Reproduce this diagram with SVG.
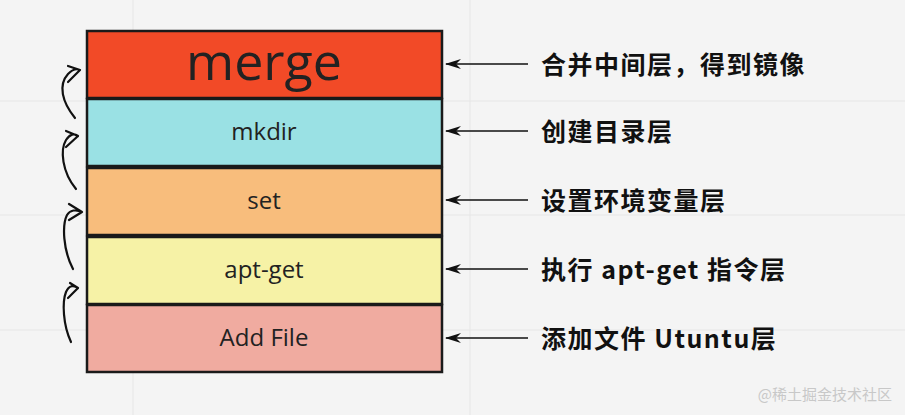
<svg xmlns="http://www.w3.org/2000/svg" width="905" height="415" viewBox="0 0 905 415">
<style>
.box{stroke:#1a1a1a;stroke-width:2.5}
.lbl{font-family:"Open Sans","Noto Sans",sans-serif;fill:#222;text-anchor:middle}
.note{font-family:"Noto Sans CJK SC","Noto Sans",sans-serif;font-weight:bold;font-size:25px;letter-spacing:1.5px;fill:#111}
.con{stroke:#111;stroke-width:1.6;fill:none}
.hand{stroke:#111;stroke-width:2.2;fill:none;stroke-linecap:round;stroke-linejoin:round}
.grid{stroke:#e6e6e6;stroke-width:1}
</style>
<defs>
<marker id="ah" markerWidth="16" markerHeight="10" refX="15" refY="5" orient="auto" markerUnits="userSpaceOnUse">
<path d="M16,5 L0,0 L5,5 L0,10 Z" fill="#111"/>
</marker>
</defs>
<rect width="905" height="415" fill="#f4f4f4"/>
<g id="grid">
<line class="grid" x1="133" y1="0" x2="133" y2="415"/>
<line class="grid" x1="470" y1="0" x2="470" y2="415"/>
<line class="grid" x1="0" y1="101" x2="905" y2="101"/>
<line class="grid" x1="0" y1="215" x2="905" y2="215"/>
<line class="grid" x1="0" y1="330" x2="905" y2="330"/>
</g>
<g id="merge"><rect class="box" x="87" y="31" width="355" height="67" fill="#f24a27"/><text class="lbl" x="264" y="80" font-size="52">merge</text></g>
<g id="mkdir"><rect class="box" x="87" y="99" width="355" height="67" fill="#9ae1e4"/><text class="lbl" x="264" y="140" font-size="24">mkdir</text></g>
<g id="set"><rect class="box" x="87" y="168" width="355" height="67" fill="#f8bd7c"/><text class="lbl" x="264" y="209" font-size="24">set</text></g>
<g id="aptget"><rect class="box" x="87" y="237" width="355" height="67" fill="#f6f2a6"/><text class="lbl" x="264" y="278" font-size="24">apt-get</text></g>
<g id="addfile"><rect class="box" x="87" y="305" width="355" height="67" fill="#f0aba0"/><text class="lbl" x="264" y="346" font-size="24">Add File</text></g>
<g id="connectors">
<line class="con" x1="528" y1="64" x2="446" y2="64" marker-end="url(#ah)"/>
<line class="con" x1="528" y1="131" x2="446" y2="131" marker-end="url(#ah)"/>
<line class="con" x1="528" y1="200" x2="446" y2="200" marker-end="url(#ah)"/>
<line class="con" x1="528" y1="269" x2="446" y2="269" marker-end="url(#ah)"/>
<line class="con" x1="528" y1="338" x2="446" y2="338" marker-end="url(#ah)"/>
<g id="hand-arrows">
<path class="hand" d="M75,118 C62,102 58,85 68,74 C72,70 76,68 80,70 M68,66 L80,70 L68,82"/>
<path class="hand" d="M76,189 C62,172 60,150 66,140 C70,134 74,133 78,136 M66,131 L78,136 L66,147"/>
<path class="hand" d="M73,269 C63,250 62,225 67,215 C70,210 76,209 82,212 M69,204 L82,212 L69,220"/>
<path class="hand" d="M71,342 C63,325 62,302 66,292 C69,285 74,285 78,288 M70,283 L78,288 L68,298"/>
</g>
</g>
<g id="notes">
<text class="note" x="541" y="74">合并中间层，得到镜像</text>
<text class="note" x="541" y="141">创建目录层</text>
<text class="note" x="541" y="210">设置环境变量层</text>
<text class="note" x="541" y="279">执行 apt-get 指令层</text>
<text class="note" x="541" y="348">添加文件 Utuntu层</text>
</g>
<text x="892" y="400" text-anchor="end" font-family="Noto Sans CJK SC,sans-serif" font-size="15" fill="#c8c8c8">@稀土掘金技术社区</text>
</svg>
